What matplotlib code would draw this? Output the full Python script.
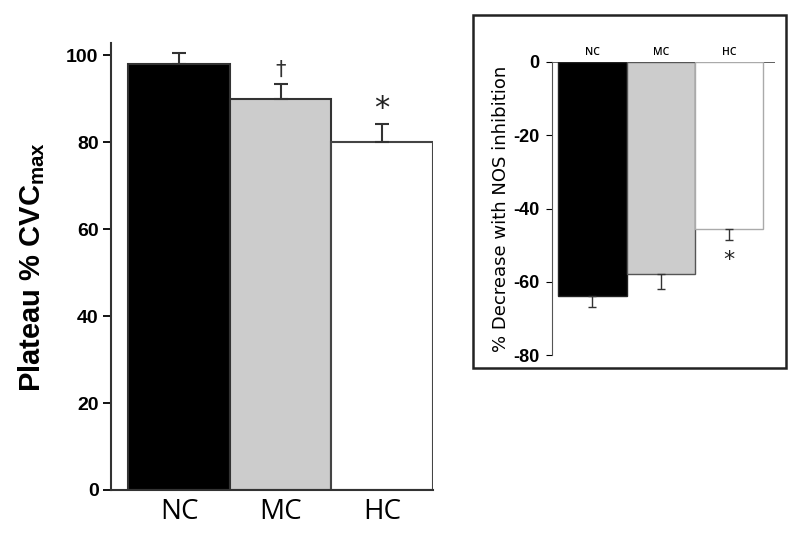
import matplotlib
matplotlib.use("Agg")
import matplotlib.pyplot as plt
from matplotlib.patches import Rectangle

categories = ["NC", "MC", "HC"]
plateau = [98.0, 90.0, 80.0]
plateau_err = [2.5, 3.3, 4.2]
plateau_marks = ["", "\u2020", "*"]
plateau_yticks = [0, 20, 40, 60, 80, 100]

nos_decrease = [-64.0, -58.0, -45.5]
nos_err = [3.0, 4.0, 3.2]
nos_yticks = [-80, -60, -40, -20, 0]

colors = ["black", "#cccccc", "white"]
main_edges = ["#333333", "#333333", "#444444"]
inset_edges = ["#222222", "#555555", "#aaaaaa"]

fig = plt.figure(figsize=(8, 5.35), dpi=100)

# ---- main axes ----
ax = fig.add_axes([111/800, 1-490/535, (433-111)/800, (490-43)/535])
x = [1, 2, 3]
ax.bar(x, plateau, width=1.0, color=colors, edgecolor=main_edges, linewidth=1.5, zorder=2)
ax.errorbar(x, plateau, yerr=[[0]*3, plateau_err], fmt="none", ecolor="#333333",
            elinewidth=1.5, capsize=5, capthick=1.5, zorder=3)
for xi, v, e, m in zip(x, plateau, plateau_err, plateau_marks):
    if m == "\u2020":
        ax.text(xi, v + e + 1.0, m, ha="center", va="bottom", fontsize=15, color="#333333")
    elif m:
        ax.text(xi, v + e + 0.3, m, ha="center", va="bottom", fontsize=22, color="#222222")
ax.set_xlim(0.33, 3.5)
ax.set_ylim(0, 102.8)
ax.set_yticks(plateau_yticks)
ax.set_yticklabels([str(t) for t in plateau_yticks], fontsize=14, fontweight="bold",
                   family="Liberation Sans")
ax.set_xticks(x)
ax.set_xticklabels(categories, fontsize=20, family="Open Sans")
ax.tick_params(axis="x", length=0, pad=6)
ax.tick_params(axis="y", length=6, width=1.3, direction="out", pad=3)
for s in ["top", "right"]:
    ax.spines[s].set_visible(False)
for s in ["left", "bottom"]:
    ax.spines[s].set_linewidth(1.5)
    ax.spines[s].set_color("#333333")
ax.set_ylabel("Plateau % CVC$_{\\mathregular{max}}$", fontsize=21, fontweight="bold",
              family="Liberation Sans", labelpad=14)

# ---- inset frame ----
fig.patches.append(Rectangle((473/800, 1-368/535), (786-473)/800, (368-15)/535,
                             transform=fig.transFigure, fill=False, edgecolor="#222222",
                             linewidth=1.8, zorder=0))

# ---- inset axes ----
ia = fig.add_axes([552/800, 1-355/535, (775-552)/800, (355-62)/535])
ia.bar(x, nos_decrease, width=1.0, color=colors, edgecolor=inset_edges, linewidth=1.0, zorder=2)
ia.errorbar(x, nos_decrease, yerr=[nos_err, [0]*3], fmt="none", ecolor="#333333",
            elinewidth=1.0, capsize=3, capthick=1.0, zorder=3)
ia.text(3, nos_decrease[2] - nos_err[2] - 2.5, "*", ha="center", va="top", fontsize=16, color="#222222")
ia.set_xlim(0.41, 3.67)
ia.set_ylim(-80, 0)
ia.set_yticks(nos_yticks)
ia.set_yticklabels([str(t) for t in nos_yticks], fontsize=13, fontweight="bold",
                   family="Liberation Sans")
ia.tick_params(axis="y", length=4, width=0.8, direction="out", pad=5)
ia.xaxis.set_ticks_position("top")
ia.set_xticks(x)
ia.set_xticklabels(categories, fontsize=7.5, family="Open Sans", fontweight="semibold")
ia.tick_params(axis="x", length=0, pad=3)
for s in ["top", "right", "bottom"]:
    ia.spines[s].set_visible(False)
ia.spines["left"].set_linewidth(0.8)
ia.spines["left"].set_color("#555555")
ia.axhline(0, color="#444444", linewidth=1.2, zorder=1)
ia.set_ylabel("% Decrease with NOS inhibition", fontsize=13, family="DejaVu Sans",
              labelpad=2)

fig.savefig("out.png", dpi=100)
